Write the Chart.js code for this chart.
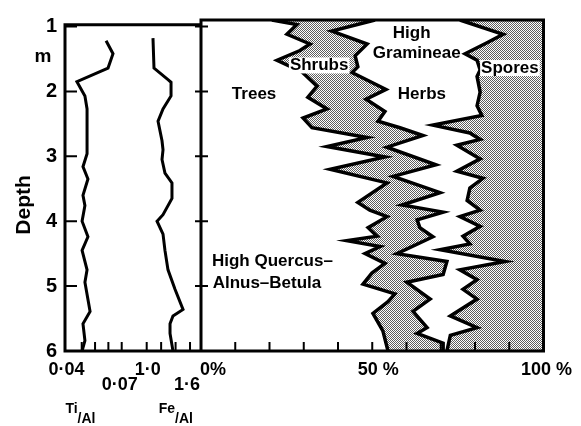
<!DOCTYPE html>
<html><head><meta charset="utf-8">
<script src="https://cdn.jsdelivr.net/npm/chart.js@4.4.1/dist/chart.umd.min.js"></script>
<style>html,body{margin:0;padding:0;background:#fff}#wrap{width:581px;height:426px;position:relative}</style>
</head><body><div id="wrap"><canvas id="c" width="581" height="426"></canvas></div>
<script>
// ---- data ----
const depthTicks = [1, 2, 3, 4, 5, 6];
const pctTicks = [10, 20, 30, 40, 50, 60, 70, 80, 90];
const pctTickLabels = ['0%', '50 %', '100 %'];
const pctLabelValues = [0, 50, 100];
const tiTicks = [0.0475, 0.055, 0.0625, 0.07];
const tiLabelValues = [0.04, 0.07];
const tiTickLabels = ['0·04', '0·07'];
const feTicks = [1.0, 1.2, 1.4, 1.6];
const feLabelValues = [1.0, 1.6];
const feTickLabels = ['1·0', '1·6'];

// cumulative pollen percentages (upper boundary of each group)
const treesDepth = [0.9,0.97,1.12,1.27,1.37,1.52,1.7,1.92,2.09,2.27,2.41,2.56,2.71,2.85,3.01,3.2,3.41,3.71,3.83,3.93,4.1,4.23,4.3,4.39,4.5,4.65,4.8,4.97,5.12,5.24,5.42,5.69,6.0];
const treesPct   = [20.7,28.0,25.1,31.8,28.9,22.2,29.5,33.9,31.2,36.8,29.8,32.4,48.5,36.8,53.7,37.7,54.3,45.8,49.3,54.3,48.8,51.4,42.6,52.3,47.9,53.7,49.9,47.3,56.6,54.6,50.2,53.1,54.6];
const shrubsDepth = [0.9,1.07,1.27,1.45,1.62,1.71,1.97,2.12,2.31,2.46,2.56,2.68,2.86,3.13,3.31,3.56,3.75,3.86,3.98,4.1,4.24,4.5,4.62,4.82,4.94,5.2,5.39,5.64,5.73,5.88,6.0];
const shrubsPct   = [50.8,38.2,48.5,45.0,45.8,44.1,54.0,48.2,53.7,51.7,58.1,64.8,54.3,68.6,56.1,69.8,58.7,70.7,63.1,63.9,67.7,57.2,71.8,70.7,60.1,66.9,61.9,66.0,63.1,70.7,70.7];
const herbsDepth = [0.9,1.12,1.25,1.42,1.52,1.67,1.77,2.01,2.22,2.37,2.52,2.64,2.74,2.83,3.04,3.23,3.34,3.49,3.68,3.83,3.93,4.08,4.23,4.35,4.44,4.62,4.75,4.9,5.05,5.2,5.46,5.64,5.76,6.0];
const herbsPct   = [75.6,88.2,83.5,77.1,80.6,81.5,80.6,81.5,80.6,82.0,67.7,78.5,81.5,74.7,81.5,74.7,82.3,78.5,77.7,81.5,75.6,81.5,76.5,78.5,69.8,88.8,75.6,80.6,76.5,80.6,72.8,80.6,72.8,71.8];

const tiDepth = [1.22,1.42,1.64,1.85,2.07,2.27,2.76,2.96,3.16,3.35,3.6,3.76,4.0,4.24,4.45,4.75,4.94,5.39,5.58,5.84,6.0];
const tiAl    = [0.0612,0.0651,0.0623,0.0448,0.0493,0.0505,0.0505,0.0505,0.0482,0.0510,0.0482,0.0493,0.0477,0.0510,0.0477,0.0505,0.0493,0.0522,0.0482,0.0493,0.0477];
const feDepth = [1.18,1.64,1.82,1.86,2.07,2.27,2.46,2.76,2.9,3.05,3.26,3.41,3.65,3.9,4.0,4.2,4.45,4.75,5.05,5.36,5.46,5.58,5.73,6.0];
const feAl    = [1.087,1.101,1.295,1.337,1.337,1.226,1.157,1.212,1.226,1.212,1.253,1.350,1.350,1.226,1.143,1.226,1.253,1.295,1.392,1.503,1.364,1.323,1.323,1.364];

// ---- helpers ----
const FONT = '"Liberation Sans", Arial, sans-serif';
const pts = (ds, vs) => ds.map((d, i) => ({ y: d, x: vs[i] }));

const canvas = document.getElementById('c');
const pc = document.createElement('canvas');
pc.width = 2; pc.height = 2;
const pctx = pc.getContext('2d');
pctx.fillStyle = '#fff'; pctx.fillRect(0, 0, 2, 2);
pctx.fillStyle = '#5e5e5e'; pctx.fillRect(0, 0, 1, 1); pctx.fillRect(1, 1, 1, 1);
const stipple = canvas.getContext('2d').createPattern(pc, 'repeat');

const annotations = [
  { t: 'Trees', p: 15.5, d: 2.04, align: 'center' },
  { t: 'Shrubs', p: 34.5, d: 1.6, align: 'center', bg: true },
  { t: 'High', p: 61.5, d: 1.1, align: 'center' },
  { t: 'Gramineae', p: 63.0, d: 1.41, align: 'center' },
  { t: 'Herbs', p: 64.5, d: 2.04, align: 'center' },
  { t: 'Spores', p: 90.2, d: 1.64, align: 'center', bg: true },
  { t: 'High Quercus–', p: 3.2, d: 4.62, align: 'left' },
  { t: 'Alnus–Betula', p: 3.4, d: 4.95, align: 'left' }
];

const frame = {
  id: 'frame',
  afterDatasetsDraw(chart) {
    const { ctx, chartArea: a } = chart;
    const { y, xTi, xFe, xP } = chart.scales;
    const sep = xP.left;
    const yTopL = y.getPixelForValue(0.975);
    ctx.save();
    // annotations
    ctx.font = 'bold 17px ' + FONT;
    ctx.textBaseline = 'middle';
    annotations.forEach(o => {
      const px = xP.getPixelForValue(o.p), py = y.getPixelForValue(o.d);
      ctx.textAlign = o.align;
      if (o.bg) {
        const w = ctx.measureText(o.t).width;
        const x0 = o.align === 'center' ? px - w / 2 : px;
        ctx.fillStyle = '#fff';
        ctx.fillRect(x0 - 1, py - 8, w + 2, 16);
      }
      ctx.fillStyle = '#000';
      ctx.fillText(o.t, px, py);
    });
    // frame
    ctx.strokeStyle = '#000';
    ctx.lineWidth = 3;
    ctx.lineCap = 'square';
    ctx.beginPath();
    ctx.moveTo(a.left, yTopL); ctx.lineTo(sep, yTopL);
    ctx.moveTo(a.left, yTopL); ctx.lineTo(a.left, a.bottom);
    ctx.moveTo(a.left, a.bottom); ctx.lineTo(a.right, a.bottom);
    ctx.moveTo(sep, a.top); ctx.lineTo(sep, a.bottom);
    ctx.moveTo(sep, a.top); ctx.lineTo(a.right, a.top); ctx.lineTo(a.right, a.bottom);
    ctx.stroke();
    // ticks
    ctx.lineWidth = 2;
    ctx.lineCap = 'butt';
    ctx.beginPath();
    depthTicks.forEach(d => {
      const py = y.getPixelForValue(d);
      ctx.moveTo(a.left, py); ctx.lineTo(a.left + 12, py);
      ctx.moveTo(sep - 6, py); ctx.lineTo(sep + 7, py);
    });
    const up = (px) => { ctx.moveTo(px, a.bottom); ctx.lineTo(px, a.bottom - 9); };
    tiTicks.forEach(v => up(xTi.getPixelForValue(v)));
    feTicks.forEach(v => up(xFe.getPixelForValue(v)));
    pctTicks.forEach(v => up(xP.getPixelForValue(v)));
    ctx.stroke();
    // x tick labels
    ctx.fillStyle = '#000';
    ctx.font = 'bold 18px ' + FONT;
    ctx.textBaseline = 'alphabetic';
    ctx.textAlign = 'center';
    ctx.fillText(tiTickLabels[0], xTi.getPixelForValue(tiLabelValues[0]) - 2, a.bottom + 24);
    ctx.fillText(tiTickLabels[1], xTi.getPixelForValue(tiLabelValues[1]) - 2, a.bottom + 39);
    ctx.fillText(feTickLabels[0], xFe.getPixelForValue(feLabelValues[0]) + 1, a.bottom + 24);
    ctx.fillText(feTickLabels[1], xFe.getPixelForValue(feLabelValues[1]) - 3, a.bottom + 39);
    ctx.textAlign = 'left';
    ctx.fillText(pctTickLabels[0], xP.getPixelForValue(pctLabelValues[0]) - 1, a.bottom + 24);
    ctx.textAlign = 'center';
    ctx.fillText(pctTickLabels[1], xP.getPixelForValue(pctLabelValues[1]) + 6, a.bottom + 24);
    ctx.fillText(pctTickLabels[2], xP.getPixelForValue(pctLabelValues[2]) + 3, a.bottom + 24);
    // axis titles Ti/Al, Fe/Al
    ctx.textAlign = 'left';
    ctx.font = 'bold 14px ' + FONT;
    const ratio = (num, x0) => {
      ctx.fillText(num, x0, a.bottom + 62);
      const w = ctx.measureText(num).width;
      ctx.fillText('/Al', x0 + w, a.bottom + 72);
    };
    ratio('Ti', xTi.getPixelForValue(0.04) - 3);
    ratio('Fe', xFe.getPixelForValue(1.0) + 12);
    // Depth title and unit
    ctx.font = 'bold 19px ' + FONT;
    ctx.textAlign = 'center';
    ctx.textBaseline = 'middle';
    ctx.fillText('m', a.left - 22, y.getPixelForValue(1.46));
    ctx.save();
    ctx.translate(24, y.getPixelForValue(3.75));
    ctx.rotate(-Math.PI / 2);
    ctx.font = 'bold 21px ' + FONT;
    ctx.fillText('Depth', 0, 0);
    ctx.restore();
    ctx.restore();
  }
};

new Chart(canvas, {
  type: 'line',
  data: {
    datasets: [
      { label: 'Trees', data: pts(treesDepth, treesPct), xAxisID: 'xP', yAxisID: 'y', borderWidth: 3.5, fill: false },
      { label: 'Shrubs', data: pts(shrubsDepth, shrubsPct), xAxisID: 'xP', yAxisID: 'y', borderWidth: 3.5, fill: '-1', backgroundColor: stipple },
      { label: 'Herbs', data: pts(herbsDepth, herbsPct), xAxisID: 'xP', yAxisID: 'y', borderWidth: 3.5, fill: { value: 100 }, backgroundColor: stipple },
      { label: 'Ti/Al', data: pts(tiDepth, tiAl), xAxisID: 'xTi', yAxisID: 'y', borderWidth: 3, fill: false },
      { label: 'Fe/Al', data: pts(feDepth, feAl), xAxisID: 'xFe', yAxisID: 'y', borderWidth: 3, fill: false }
    ]
  },
  options: {
    responsive: false,
    animation: false,
    indexAxis: 'y',
    layout: { padding: { left: 0, right: 37.5, top: 8, bottom: 75 } },
    plugins: { legend: { display: false }, tooltip: { enabled: false } },
    elements: {
      point: { radius: 0 },
      line: { tension: 0, borderColor: '#000', borderJoinStyle: 'miter' }
    },
    scales: {
      xTi: { type: 'linear', axis: 'x', position: 'bottom', stack: 'row1', stackWeight: 136, min: 0.038087, max: 0.11462, display: false },
      xP: { type: 'linear', axis: 'x', position: 'bottom', stack: 'row1', stackWeight: 342.5, min: 0, max: 100, display: false },
      xFe: { type: 'linear', axis: 'x', position: 'bottom', stack: 'row2', stackWeight: 136, min: -0.13158, max: 1.75208, display: false },
      xDummy: { type: 'linear', axis: 'x', position: 'bottom', stack: 'row2', stackWeight: 342.5, min: 0, max: 1, display: false },
      y: {
        type: 'linear', position: 'left', reverse: true, min: 0.9, max: 6,
        afterBuildTicks: s => { s.ticks = depthTicks.map(v => ({ value: v })); },
        afterFit: s => { s.width = 65; },
        grid: { display: false, drawTicks: false },
        border: { display: false },
        ticks: { font: { family: FONT, size: 20, weight: 'bold' }, color: '#000', padding: 8, callback: v => String(v) }
      }
    }
  },
  plugins: [frame]
});
</script>
</body></html>
